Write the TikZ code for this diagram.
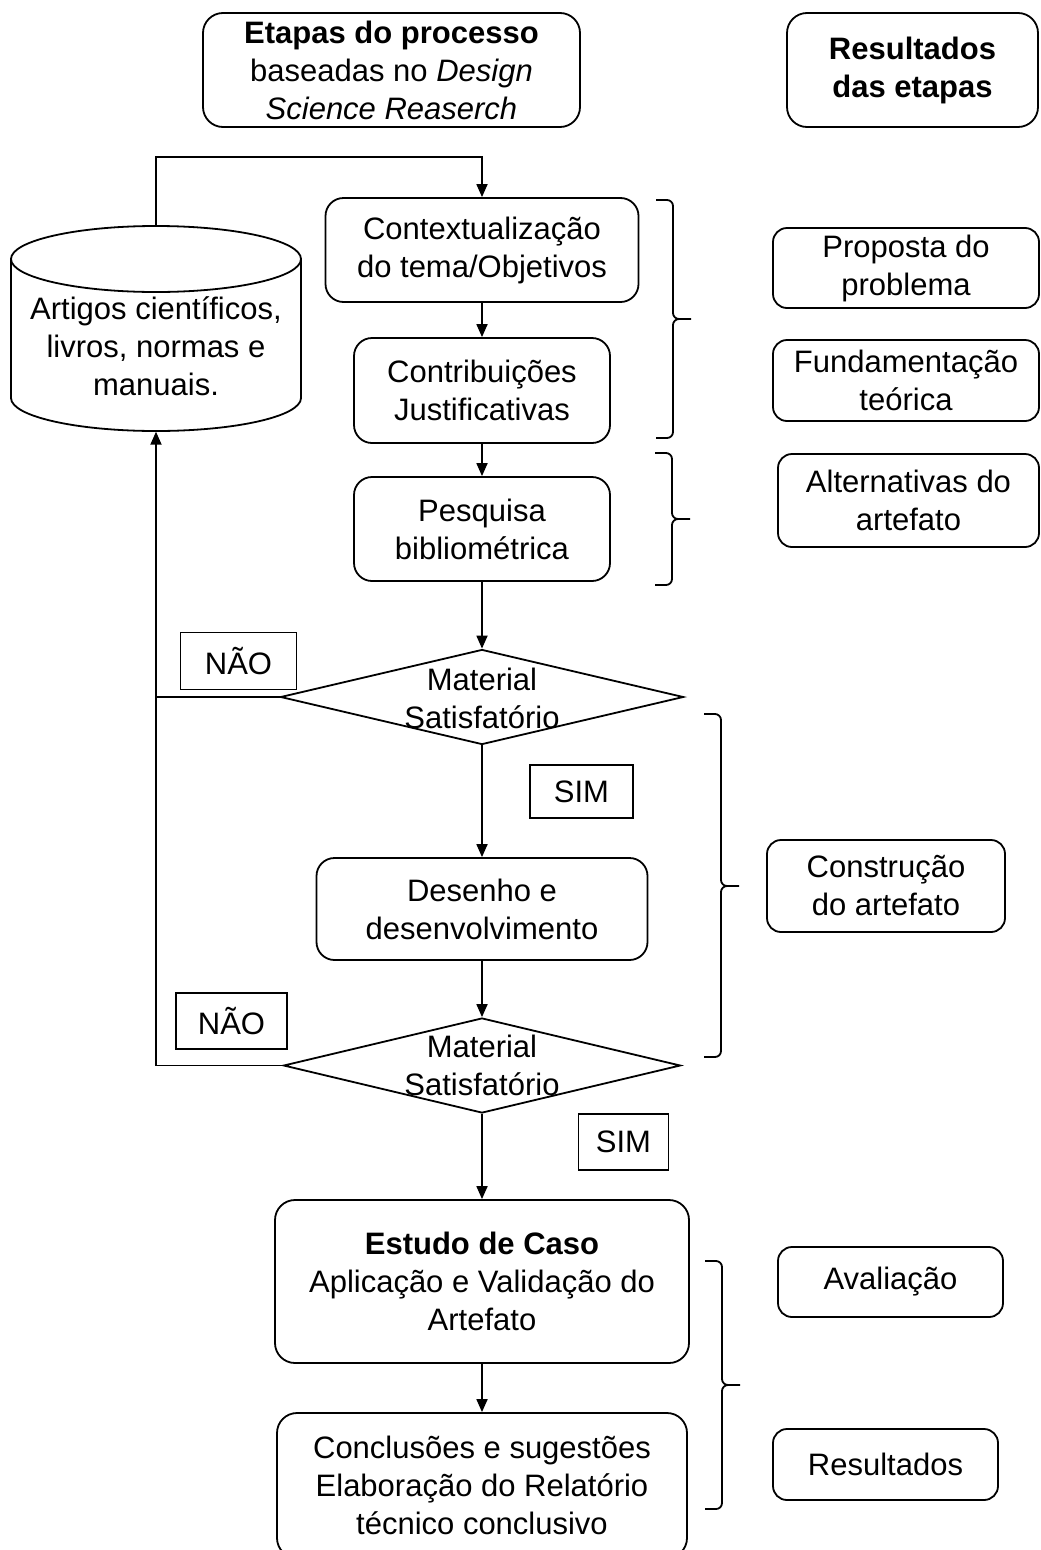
\documentclass[tikz,border=0pt]{standalone}
\usepackage{fontspec}
\setmainfont{Liberation Sans}
\usetikzlibrary{shapes.geometric,arrows.meta}

% right-hand curly bracket: x of the spine, top end, tip, bottom end
\newcommand\sidebrace[4]{%
  \draw[bracket] ({#1-17},#2) -- (#1,#2) -- (#1,#3) -- ({#1+18},#3)
                 ({#1+18},#3) -- (#1,#3) -- (#1,#4) -- ({#1-17},#4);}

\begin{document}
\begin{tikzpicture}[x=1pt,y=-1pt,
  every node/.style={font=\fontsize{31}{38}\selectfont, inner sep=0pt, align=center},
  line/.style={line width=1.8pt},
  stage/.style={draw, line width=1.8pt, rounded corners=18pt},
  outcome/.style={draw, line width=1.8pt, rounded corners=14pt},
  tag/.style={draw, line width=1.8pt},
  decision/.style={draw, diamond, line width=1.8pt},
  arr/.style={line width=1.8pt, -{Triangle[length=13pt,width=11pt]}},
  bracket/.style={line width=1.8pt, rounded corners=6pt},
]
\useasboundingbox (0,0) rectangle (1041,1550);
\fill[white] (0,0) rectangle (1041,1550);

% column headings
\node[stage, rounded corners=20pt, minimum width=377pt, minimum height=114pt] (head) at (391.5,70)
  {\textbf{Etapas do processo}\\baseadas no \textit{Design}\\\textit{Science Reaserch}};
\node[stage, rounded corners=20pt, minimum width=251pt, minimum height=114pt] (headres) at (912.5,70)
  {\textbf{Resultados}\\\textbf{das etapas}};

% literature store
\node[minimum width=290pt, minimum height=206pt] (db) at (156,328.5) {};
\draw[line] (156,259) ellipse [x radius=145, y radius=33];
\draw[line] (11,259) -- (11,398) arc[start angle=180, end angle=0, x radius=145, y radius=33] -- (301,259);
\node (dbtext) at (156,346.5) {Artigos científicos,\\livros, normas e\\manuais.};

% process steps
\node[stage, minimum width=313pt, minimum height=104pt] (ctx) at (482,250) {Contextualização\\do tema/Objetivos};
\node[stage, minimum width=256pt, minimum height=105pt] (contrib) at (482,390.5) {Contribuições\\Justificativas};
\node[stage, minimum width=256pt, minimum height=104pt] (pesq) at (482,529) {Pesquisa\\bibliométrica};

\node[decision, minimum width=403pt, minimum height=95pt] (d1) at (482,697) {};
\node (d1text) at (482,698) {Material\\Satisfatório};
\node[tag, minimum width=116pt, minimum height=57pt] (nao1) at (238.5,661) {NÃO};
\node[tag, minimum width=103pt, minimum height=53pt] (sim1) at (581.5,791.5) {SIM};

\node[stage, minimum width=331pt, minimum height=102pt] (desenho) at (482,909) {Desenho e\\desenvolvimento};

\node[decision, minimum width=397pt, minimum height=95pt] (d2) at (482,1065.5) {};
\node (d2text) at (482,1065) {Material\\Satisfatório};
\node[tag, minimum width=111pt, minimum height=56pt] (nao2) at (231.5,1021) {NÃO};
\node[tag, minimum width=90pt, minimum height=56pt] (sim2) at (623.5,1142) {SIM};

\node[stage, rounded corners=20pt, minimum width=414pt, minimum height=163pt] (estudo) at (482,1281.5)
  {\textbf{Estudo de Caso}\\Aplicação e Validação do\\Artefato};
\node[stage, rounded corners=20pt, minimum width=410pt, minimum height=145pt] (concl) at (482,1485.5)
  {Conclusões e sugestões\\Elaboração do Relatório\\técnico conclusivo};

% results of each stage
\node[outcome, minimum width=266pt, minimum height=80pt] (prop) at (906,268) {Proposta do\\problema};
\node[outcome, minimum width=266pt, minimum height=81pt] (fund) at (906,380.5) {Fundamentação\\teórica};
\node[outcome, minimum width=261pt, minimum height=93pt] (alt) at (908.5,500.5) {Alternativas do\\artefato};
\node[outcome, minimum width=238pt, minimum height=92pt] (constr) at (886,886) {Construção\\do artefato};
\node[outcome, minimum width=225pt, minimum height=70pt] (aval) at (890.5,1282) {Avaliação};
\node[outcome, minimum width=225pt, minimum height=71pt] (res) at (885.5,1464.5) {Resultados};

% brackets grouping the steps
\sidebrace{673}{200}{319}{438}
\sidebrace{672}{453}{519}{585}
\sidebrace{721}{714}{886}{1057}
\sidebrace{722}{1261}{1385}{1509}

% flow
\coordinate (fbrow) at (0,157);
\draw[arr] (db.north) -- (db.north |- fbrow) -| (ctx.north);
\draw[arr] (ctx) -- (contrib);
\draw[arr] (contrib) -- (pesq);
\draw[arr] (pesq) -- (d1);
\draw[arr] (d1) -- (desenho);
\draw[arr] (desenho) -- (d2);
\draw[arr] (d2) -- (estudo);
\draw[arr] (estudo) -- (concl);
\draw[arr] (d2.west) -| (db.south);
\draw[line] (d1.west) -- (d1.west -| db.south);
\end{tikzpicture}
\end{document}
